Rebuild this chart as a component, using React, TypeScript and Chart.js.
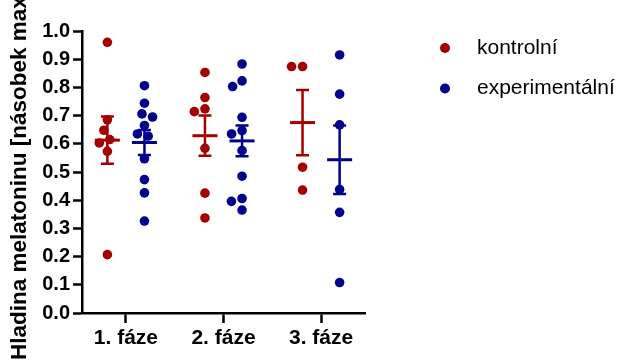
import React, { useEffect, useRef } from "react";
import { Chart, registerables } from "chart.js";

Chart.register(...registerables);

// Categories and labels
const phases = ["1. fáze", "2. fáze", "3. fáze"];
const seriesNames = ["kontrolní", "experimentální"];
const yTitle = "Hladina melatoninu [násobek maxima]";
const yTickValues = [0, 0.1, 0.2, 0.3, 0.4, 0.5, 0.6, 0.7, 0.8, 0.9, 1.0];

// Individual measurements per phase
const kontrolni1 = [0.96, 0.685, 0.648, 0.615, 0.603, 0.573, 0.207];
const kontrolni2 = [0.853, 0.764, 0.724, 0.714, 0.584, 0.425, 0.337];
const kontrolni3 = [0.874, 0.874, 0.517, 0.436];
const experimentalni1 = [0.806, 0.744, 0.706, 0.695, 0.665, 0.635, 0.627, 0.547, 0.473, 0.426, 0.326];
const experimentalni2 = [0.883, 0.823, 0.803, 0.694, 0.647, 0.635, 0.576, 0.485, 0.406, 0.396, 0.365];
const experimentalni3 = [0.915, 0.776, 0.667, 0.438, 0.357, 0.108];

const kontrolni = [kontrolni1, kontrolni2, kontrolni3];
const experimentalni = [experimentalni1, experimentalni2, experimentalni3];

const RED = "#a40000";
const BLUE = "#00008c";
const FONT = '"Liberation Sans", Arial, sans-serif';

// Layout constants for the plot
const X_MIN = 0.55;
const X_MAX = 3.45;
const GROUP_SHIFT = 0.19; // series offset from phase centre
const PX_PER_Y = 282; // plot height in px for a range of 1.0
const PX_PER_X = 97.6; // px per phase unit
const DOT = 11; // min spacing between dot centres in the swarm

// Simple beeswarm: place each dot at the smallest horizontal offset without overlap
function swarm(values: number[]): number[] {
  const order = values.map((_, i) => i).sort((a, b) => values[b] - values[a]);
  const placed: { x: number; y: number }[] = [];
  const out = new Array(values.length).fill(0);
  for (const i of order) {
    const y = values[i] * PX_PER_Y;
    const blocked: [number, number][] = [];
    for (const p of placed) {
      const dy = Math.abs(p.y - y);
      if (dy < DOT) {
        const h = Math.sqrt(DOT * DOT - dy * dy);
        blocked.push([p.x - h, p.x + h]);
      }
    }
    const cands = [0];
    blocked.forEach((b) => cands.push(b[0], b[1]));
    cands.sort((a, b) => Math.abs(a) - Math.abs(b));
    let x = 0;
    for (const c of cands) {
      if (!blocked.some((b) => c > b[0] + 1e-6 && c < b[1] - 1e-6)) {
        x = c;
        break;
      }
    }
    placed.push({ x, y });
    out[i] = x;
  }
  return out;
}

function points(groups: number[][], shift: number) {
  const pts: { x: number; y: number }[] = [];
  groups.forEach((vals, g) => {
    const offs = swarm(vals);
    vals.forEach((v, i) => pts.push({ x: g + 1 + shift + offs[i] / PX_PER_X, y: v }));
  });
  return pts;
}

function meanSem(vals: number[]) {
  const n = vals.length;
  const m = vals.reduce((a, b) => a + b, 0) / n;
  const sd = Math.sqrt(vals.reduce((a, b) => a + (b - m) * (b - m), 0) / (n - 1));
  return { m, sem: sd / Math.sqrt(n) };
}

// Mean ± SEM bars for each series and phase
const errorBars = {
  id: "errorBars",
  afterDatasetsDraw(chart: any) {
    const { ctx, scales } = chart;
    const sx = scales.x;
    const sy = scales.y;
    const sets: [number[][], number, string][] = [
      [kontrolni, -GROUP_SHIFT, RED],
      [experimentalni, GROUP_SHIFT, BLUE],
    ];
    ctx.save();
    for (const [groups, shift, color] of sets) {
      groups.forEach((vals, g) => {
        const { m, sem } = meanSem(vals);
        const cx = sx.getPixelForValue(g + 1 + shift);
        const ym = sy.getPixelForValue(m);
        const yt = sy.getPixelForValue(m + sem);
        const yb = sy.getPixelForValue(m - sem);
        ctx.strokeStyle = color;
        ctx.lineCap = "butt";
        ctx.lineWidth = 2.5;
        ctx.beginPath();
        ctx.moveTo(cx, yt);
        ctx.lineTo(cx, yb);
        ctx.moveTo(cx - 6.5, yt);
        ctx.lineTo(cx + 6.5, yt);
        ctx.moveTo(cx - 6.5, yb);
        ctx.lineTo(cx + 6.5, yb);
        ctx.stroke();
        ctx.lineWidth = 3;
        ctx.beginPath();
        ctx.moveTo(cx - 12.5, ym);
        ctx.lineTo(cx + 12.5, ym);
        ctx.stroke();
      });
    }
    ctx.restore();
  },
};

// Legend to the right of the plot and the rotated axis title
const decorations = {
  id: "decorations",
  afterDraw(chart: any) {
    const { ctx, chartArea } = chart;
    ctx.save();
    const lx = chartArea.right + 80;
    const colors = [RED, BLUE];
    seriesNames.forEach((name, i) => {
      const y = 48 + i * 40.5;
      ctx.fillStyle = colors[i];
      ctx.beginPath();
      ctx.arc(lx, y, 5, 0, Math.PI * 2);
      ctx.fill();
      ctx.fillStyle = "#000";
      ctx.font = `21px ${FONT}`;
      ctx.textAlign = "left";
      ctx.textBaseline = "middle";
      ctx.fillText(name, lx + 32, y);
    });
    ctx.translate(20, 360);
    ctx.rotate(-Math.PI / 2);
    ctx.font = `bold 22.5px ${FONT}`;
    ctx.fillStyle = "#000";
    ctx.textAlign = "left";
    ctx.textBaseline = "middle";
    ctx.fillText(yTitle, 0, 0);
    ctx.restore();
  },
};

export default function App() {
  const ref = useRef<HTMLCanvasElement>(null);
  useEffect(() => {
    if (!ref.current) return;
    const chart = new Chart(ref.current, {
      type: "scatter",
      data: {
        datasets: [
          {
            label: seriesNames[0],
            data: points(kontrolni, -GROUP_SHIFT),
            backgroundColor: RED,
            pointRadius: 4.8,
            pointBorderWidth: 0,
          },
          {
            label: seriesNames[1],
            data: points(experimentalni, GROUP_SHIFT),
            backgroundColor: BLUE,
            pointRadius: 4.8,
            pointBorderWidth: 0,
          },
        ],
      },
      options: {
        animation: false,
        responsive: true,
        maintainAspectRatio: false,
        layout: { padding: { top: 31, right: 259, left: 0, bottom: 0 } },
        plugins: { legend: { display: false }, tooltip: { enabled: false } },
        scales: {
          x: {
            type: "linear",
            min: X_MIN,
            max: X_MAX,
            afterBuildTicks: (s: any) => {
              s.ticks = phases.map((_, i) => ({ value: i + 1 }));
            },
            afterFit: (s: any) => {
              s.height = 50;
            },
            grid: {
              display: true,
              drawOnChartArea: false,
              drawTicks: true,
              tickLength: 10,
              tickWidth: 2.5,
              tickColor: "#000",
            },
            border: { display: true, color: "#000", width: 2.5 },
            ticks: {
              callback: (v: any) => phases[Math.round(v) - 1],
              font: { family: FONT, size: 21, weight: "bold" },
              color: "#000",
              padding: 3,
              maxRotation: 0,
              autoSkip: false,
            },
          },
          y: {
            min: 0,
            max: 1,
            afterBuildTicks: (s: any) => {
              s.ticks = yTickValues.map((v) => ({ value: v }));
            },
            afterFit: (s: any) => {
              s.width = 82;
            },
            grid: {
              display: true,
              drawOnChartArea: false,
              drawTicks: true,
              tickLength: 9,
              tickWidth: 2.5,
              tickColor: "#000",
            },
            border: { display: true, color: "#000", width: 2.5 },
            ticks: {
              callback: (v: any) => Number(v).toFixed(1),
              font: { family: FONT, size: 20, weight: "bold" },
              color: "#000",
              padding: 3,
              autoSkip: false,
            },
          },
        },
      },
      plugins: [errorBars, decorations],
    });
    return () => chart.destroy();
  }, []);
  return (
    <div style={{ position: "fixed", left: 0, top: 0, width: 624, height: 363 }}>
      <canvas ref={ref} />
    </div>
  );
}
